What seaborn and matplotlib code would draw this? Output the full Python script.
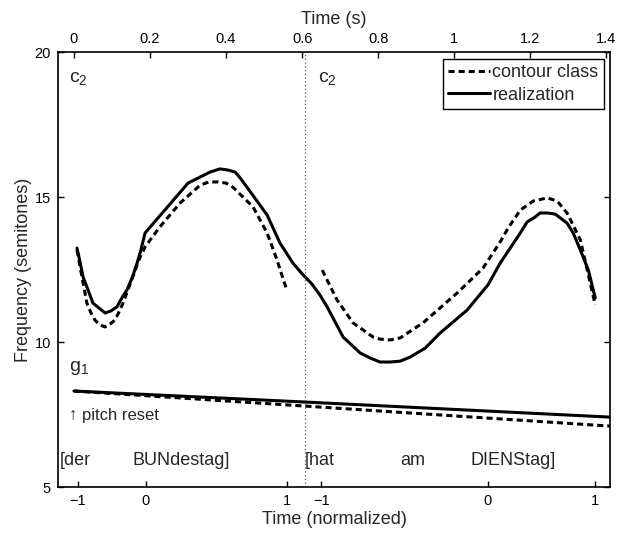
import matplotlib
matplotlib.use("Agg")
import matplotlib.pyplot as plt
import seaborn as sns
from matplotlib.lines import Line2D

# ---------------- data ----------------
# realization (solid), time in seconds / frequency in semitones
real_t = [0.008, 0.016, 0.024, 0.034, 0.050, 0.066, 0.082, 0.097, 0.113, 0.126,
          0.139, 0.153, 0.166, 0.176, 0.187, 0.239, 0.300, 0.332, 0.358, 0.384,
          0.405, 0.424, 0.437, 0.455, 0.508, 0.542, 0.576, 0.603, 0.626, 0.647,
          0.666, 0.708, 0.753, 0.779, 0.805, 0.832, 0.858, 0.884, 0.924, 0.963,
          1.034, 1.089, 1.121, 1.174, 1.192, 1.213, 1.226, 1.245, 1.266, 1.297,
          1.313, 1.332, 1.353, 1.371]
real_f = [13.24, 12.76, 12.24, 11.90, 11.34, 11.17, 11.00, 11.07, 11.21, 11.52,
          11.79, 12.21, 12.72, 13.17, 13.76, 14.55, 15.48, 15.69, 15.86, 15.97,
          15.93, 15.86, 15.66, 15.34, 14.38, 13.41, 12.72, 12.31, 12.00, 11.62,
          11.21, 10.17, 9.62, 9.45, 9.31, 9.31, 9.34, 9.48, 9.79, 10.31,
          11.10, 11.97, 12.72, 13.76, 14.14, 14.31, 14.45, 14.45, 14.41, 14.10,
          13.76, 13.17, 12.48, 11.52]

# contour class (dashed), first phrase
cls1_t = [0.008, 0.034, 0.045, 0.055, 0.068, 0.082, 0.095, 0.108, 0.116, 0.129,
          0.174, 0.187, 0.226, 0.279, 0.332, 0.355, 0.379, 0.400, 0.418, 0.471,
          0.508, 0.534, 0.558]
cls1_f = [13.17, 11.34, 11.00, 10.76, 10.59, 10.52, 10.62, 10.76, 10.97, 11.34,
          12.93, 13.28, 13.97, 14.79, 15.41, 15.52, 15.52, 15.48, 15.34, 14.66,
          13.76, 12.83, 11.86]

# contour class (dashed), second phrase
cls2_t = [0.653, 0.692, 0.734, 0.787, 0.805, 0.832, 0.858, 0.918, 1.008, 1.076,
          1.121, 1.142, 1.174, 1.208, 1.245, 1.271, 1.297, 1.332, 1.371]
cls2_f = [12.48, 11.45, 10.66, 10.17, 10.10, 10.07, 10.14, 10.66, 11.69, 12.55,
          13.45, 13.93, 14.55, 14.86, 14.97, 14.86, 14.45, 13.52, 11.28]

# global (g1) contours
glob_t = [0.0, 0.608, 1.41]
glob_real_f = [8.31, 7.93, 7.41]
glob_cls_f = [8.31, 7.79, 7.10]

phrase_boundary = 0.608

# normalized-time ticks (word boundaries) and labels
norm_tick_t = [0.0105, 0.189, 0.561, 0.650, 1.089, 1.371]
norm_tick_labels = ["\u22121", "0", "1", "\u22121", "0", "1"]
sec_ticks = [0, 0.2, 0.4, 0.6, 0.8, 1.0, 1.2, 1.4]
sec_tick_labels = ["0", "0.2", "0.4", "0.6", "0.8", "1", "1.2", "1.4"]
y_ticks = [5, 10, 15, 20]

words = [("[der", -0.037), ("BUNdestag]", 0.153), ("[hat", 0.606),
         ("am", 0.858), ("DIENStag]", 1.042)]

# ---------------- style ----------------
sns.set_theme(style="white")
plt.rcParams['font.family'] = ['Liberation Sans', 'DejaVu Sans']
plt.rcParams['mathtext.fontset'] = 'custom'
plt.rcParams['mathtext.rm'] = 'Liberation Sans'
plt.rcParams['mathtext.it'] = 'Liberation Sans'

fig = plt.figure(figsize=(6.19, 5.33), dpi=100)
ax = fig.add_axes([0.0937, 0.0863, 0.8918, 0.8161])

LW = 2.2
dash = (0, (2.0, 1.3))

sns.lineplot(x=real_t, y=real_f, ax=ax, color="black", lw=LW, sort=False,
             estimator=None)
sns.lineplot(x=cls1_t, y=cls1_f, ax=ax, color="black", lw=LW, sort=False,
             estimator=None, linestyle=dash)
sns.lineplot(x=cls2_t, y=cls2_f, ax=ax, color="black", lw=LW, sort=False,
             estimator=None, linestyle=dash)
sns.lineplot(x=glob_t, y=glob_real_f, ax=ax, color="black", lw=LW, sort=False,
             estimator=None)
sns.lineplot(x=glob_t, y=glob_cls_f, ax=ax, color="black", lw=LW, sort=False,
             estimator=None, linestyle=dash)

ax.axvline(phrase_boundary, color="#555555", lw=0.9, linestyle=(0, (1, 2)))

ax.set_xlim(-0.042, 1.41)
ax.set_ylim(5, 20)
ax.set_yticks(y_ticks)
ax.set_yticklabels([str(v) for v in y_ticks])
ax.set_xticks(norm_tick_t)
ax.set_xticklabels(norm_tick_labels)
ax.tick_params(axis="both", direction="in", length=4, width=1, colors="black",
               labelsize=10.5, top=True, right=True, bottom=True, left=True,
               pad=5)
ax.set_xlabel("Time (normalized)", fontsize=13, labelpad=2)
ax.set_ylabel("Frequency (semitones)", fontsize=13, labelpad=2)
for s in ax.spines.values():
    s.set_linewidth(1.2)
    s.set_color("black")

ax2 = ax.twiny()
ax2.set_xlim(ax.get_xlim())
ax2.set_xticks(sec_ticks)
ax2.set_xticklabels(sec_tick_labels)
ax2.tick_params(axis="x", direction="in", length=4, width=1, colors="black",
                labelsize=10.5, top=True, bottom=False, pad=4)
ax2.set_xlabel("Time (s)", fontsize=13, labelpad=6)
for s in ax2.spines.values():
    s.set_visible(False)

# annotations
ax.text(-0.012, 19.1, r"c$_\mathregular{2}$", fontsize=14, va="center", ha="left")
ax.text(0.642, 19.1, r"c$_\mathregular{2}$", fontsize=14, va="center", ha="left")
ax.text(-0.012, 9.1, r"g$_\mathregular{1}$", fontsize=14, va="center", ha="left")
ax.text(-0.012, 7.45, "\u2191 pitch reset", fontsize=12, va="center", ha="left")
for w, t in words:
    ax.text(t, 5.93, w, fontsize=13, va="center", ha="left")

# legend
handles = [Line2D([], [], color="black", lw=LW, linestyle=dash),
           Line2D([], [], color="black", lw=LW)]
leg = ax.legend(handles, ["contour class", "realization"], loc="upper right",
                bbox_to_anchor=(0.989, 0.984), borderaxespad=0, fontsize=13,
                handlelength=2.3, handletextpad=0.15, borderpad=0.3,
                labelspacing=0.3, fancybox=False, framealpha=1,
                edgecolor="black")
leg.get_frame().set_linewidth(1.0)

fig.savefig("out.png", dpi=100)
